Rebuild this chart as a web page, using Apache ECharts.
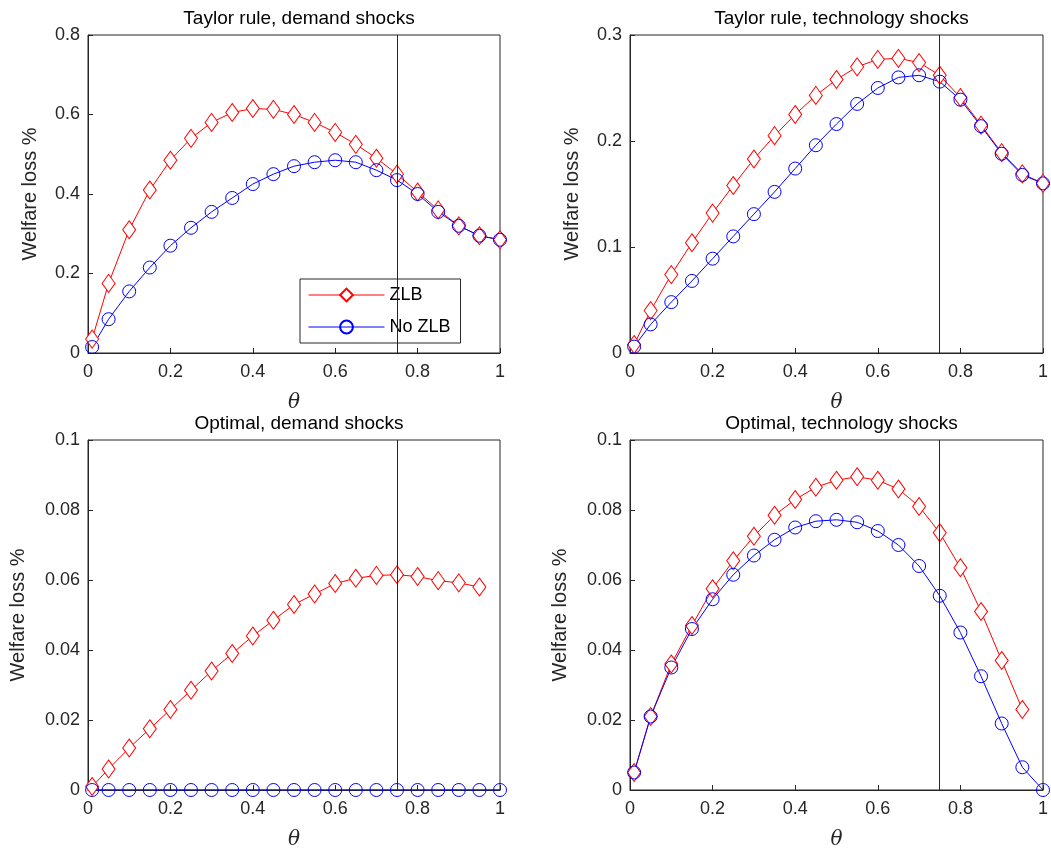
<!DOCTYPE html>
<html>
<head>
<meta charset="utf-8">
<script src="https://cdn.jsdelivr.net/npm/echarts@6/dist/echarts.min.js"></script>
<style>
html, body { margin: 0; padding: 0; background: #fff; }
#main { width: 1051px; height: 859px; }
</style>
</head>
<body>
<div id="main"></div>
<script>
var theta = [0.01, 0.05, 0.1, 0.15, 0.2, 0.25, 0.3, 0.35, 0.4, 0.45, 0.5, 0.55, 0.6, 0.65, 0.7, 0.75, 0.8, 0.85, 0.9, 0.95, 1];
var titles = ['Taylor rule, demand shocks', 'Taylor rule, technology shocks', 'Optimal, demand shocks', 'Optimal, technology shocks'];
var yMax = [0.8, 0.3, 0.1, 0.1];
var yStep = [0.2, 0.1, 0.02, 0.02];

var taylorDemandZlb = [0.035, 0.175, 0.31, 0.41, 0.485, 0.54, 0.58, 0.605, 0.615, 0.613, 0.60, 0.58, 0.555, 0.525, 0.49, 0.45, 0.405, 0.36, 0.32, 0.295, 0.285];
var taylorDemandNo = [0.015, 0.085, 0.155, 0.215, 0.27, 0.315, 0.355, 0.39, 0.425, 0.45, 0.47, 0.48, 0.485, 0.48, 0.46, 0.435, 0.40, 0.355, 0.32, 0.295, 0.285];
var taylorTechZlb = [0.008, 0.04, 0.074, 0.104, 0.132, 0.158, 0.183, 0.205, 0.225, 0.243, 0.258, 0.27, 0.277, 0.278, 0.274, 0.262, 0.241, 0.215, 0.189, 0.169, 0.16];
var taylorTechNo = [0.006, 0.027, 0.048, 0.068, 0.089, 0.11, 0.131, 0.152, 0.174, 0.196, 0.216, 0.235, 0.25, 0.26, 0.262, 0.256, 0.239, 0.214, 0.188, 0.168, 0.16];
var optDemandZlb = [0.001, 0.006, 0.012, 0.0175, 0.023, 0.0285, 0.034, 0.039, 0.044, 0.0485, 0.053, 0.056, 0.059, 0.0605, 0.0613, 0.0615, 0.061, 0.0598, 0.0592, 0.058];
var optDemandNo = [0, 0, 0, 0, 0, 0, 0, 0, 0, 0, 0, 0, 0, 0, 0, 0, 0, 0, 0, 0, 0];
var optTechZlb = [0.005, 0.021, 0.036, 0.047, 0.0575, 0.0655, 0.0725, 0.0785, 0.083, 0.0865, 0.0885, 0.0895, 0.0885, 0.086, 0.081, 0.0735, 0.0635, 0.051, 0.037, 0.023];
var optTechNo = [0.005, 0.021, 0.035, 0.046, 0.0545, 0.0615, 0.067, 0.0715, 0.075, 0.0768, 0.0772, 0.0765, 0.074, 0.07, 0.064, 0.0555, 0.045, 0.0325, 0.019, 0.0065, 0];
var zlbData = [taylorDemandZlb, taylorTechZlb, optDemandZlb, optTechZlb];
var noData = [taylorDemandNo, taylorTechNo, optDemandNo, optTechNo];
var cutoff = 0.75;

var FONT = 'Liberation Sans';
var ink = '#262626';
var grids = [
  { left: 88, top: 35, width: 412, height: 318 },
  { left: 630, top: 35, width: 413, height: 318 },
  { left: 88, top: 440, width: 412, height: 350 },
  { left: 630, top: 440, width: 413, height: 350 }
];

function pairs(vals) {
  return vals.map(function (v, i) { return [theta[i], v]; });
}

var option = {
  animation: false,
  title: [],
  grid: [],
  xAxis: [],
  yAxis: [],
  series: [],
  legend: {
    orient: 'vertical',
    left: 300, top: 279,
    itemWidth: 76, itemHeight: 16,
    itemGap: 14,
    padding: [7, 10, 7, 8],
    borderColor: ink, borderWidth: 1,
    backgroundColor: '#fff',
    lineStyle: { width: 1 },
    textStyle: { fontFamily: FONT, fontSize: 18, color: '#000' },
    data: ['ZLB', 'No ZLB']
  }
};

grids.forEach(function (g, k) {
  option.grid.push({ left: g.left, top: g.top, width: g.width, height: g.height, show: true, borderColor: ink, borderWidth: 1, backgroundColor: '#fff' });
  option.title.push({
    text: titles[k], left: g.left + g.width / 2, top: g.top - 31, textAlign: 'center',
    textStyle: { fontFamily: FONT, fontSize: 19, fontWeight: 'normal', color: '#000' }
  });
  option.xAxis.push({
    gridIndex: k, type: 'value', min: 0, max: 1, interval: 0.2,
    name: 'θ', nameLocation: 'middle', nameGap: 40,
    nameTextStyle: { fontFamily: 'DejaVu Serif', fontStyle: 'italic', fontSize: 20, color: ink },
    axisLine: { lineStyle: { color: ink } },
    axisTick: { inside: true, length: 5, lineStyle: { color: ink } },
    axisLabel: { fontFamily: FONT, fontSize: 18, color: ink, margin: 10 },
    splitLine: { show: false }
  });
  option.yAxis.push({
    gridIndex: k, type: 'value', min: 0, max: yMax[k], interval: yStep[k],
    name: 'Welfare loss %', nameLocation: 'middle', nameGap: k < 2 ? 48 : 60,
    nameTextStyle: { fontFamily: FONT, fontSize: 20, color: ink },
    axisLine: { lineStyle: { color: ink } },
    axisTick: { inside: true, length: 5, lineStyle: { color: ink } },
    axisLabel: { fontFamily: FONT, fontSize: 18, color: ink, margin: 8 },
    splitLine: { show: false }
  });
  option.series.push({
    name: 'ZLB', type: 'line', xAxisIndex: k, yAxisIndex: k,
    data: pairs(zlbData[k]), symbol: 'diamond', symbolSize: [13, 18],
    itemStyle: { color: '#fff', borderColor: '#ff0000', borderWidth: 1 },
    lineStyle: { color: '#ff0000', width: 1 },
    markLine: {
      silent: true, symbol: 'none', label: { show: false },
      lineStyle: { color: ink, type: 'solid', width: 1 },
      data: [{ xAxis: cutoff }]
    }
  });
  option.series.push({
    name: 'No ZLB', type: 'line', xAxisIndex: k, yAxisIndex: k,
    data: pairs(noData[k]), symbol: 'circle', symbolSize: 13,
    itemStyle: { color: 'rgba(255,255,255,0)', borderColor: '#0000ff', borderWidth: 1 },
    lineStyle: { color: '#0000ff', width: 1 }
  });
});

var chart = echarts.init(document.getElementById('main'));
chart.setOption(option);
</script>
</body>
</html>
